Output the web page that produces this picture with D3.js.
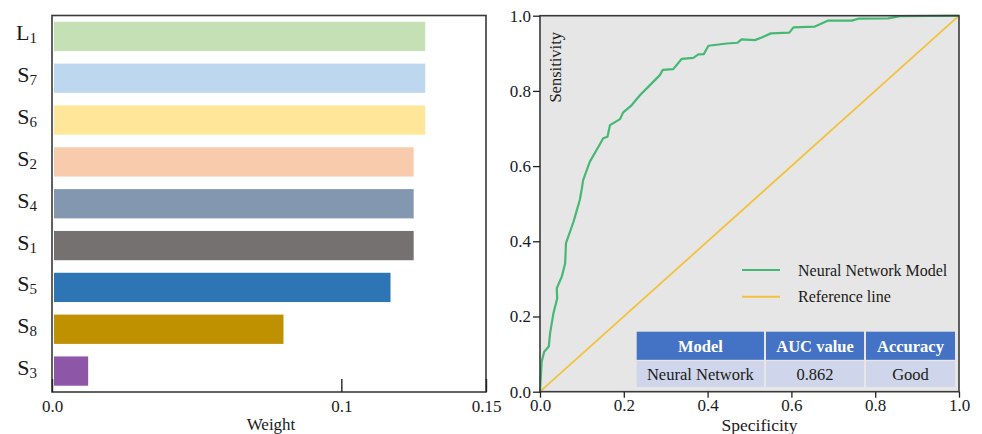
<!DOCTYPE html>
<html>
<head>
<meta charset="utf-8">
<script src="https://cdn.jsdelivr.net/npm/d3@7"></script>
<style>
  html, body { margin: 0; padding: 0; background: #ffffff; }
  svg { display: block; font-family: "Liberation Serif", "Times New Roman", serif; }
</style>
</head>
<body>
<svg id="chart" width="982" height="434"></svg>
<script>
// ---- Feature weights (left panel) ----
const featureBase = ["L", "S", "S", "S", "S", "S", "S", "S", "S"];
const featureSub  = ["1", "7", "6", "2", "4", "1", "5", "8", "3"];
const featureWeights = [0.129, 0.129, 0.129, 0.125, 0.125, 0.125, 0.117, 0.080, 0.0125];
const featureColors = ["#c5e0b4", "#bdd7ee", "#ffe699", "#f8cbad", "#8497b0", "#767171", "#2e75b6", "#bf9000", "#8e56a6"];
const weightTicks = [0, 0.1, 0.15];
const weightTickLabels = ["0.0", "0.1", "0.15"];

// ---- ROC curve (right panel) ----
const rocX = [0, 0.004, 0.010, 0.021, 0.024, 0.032, 0.041, 0.040, 0.052, 0.060, 0.062, 0.080, 0.088, 0.095,
  0.100, 0.103, 0.119, 0.135, 0.151, 0.161, 0.167, 0.191, 0.198, 0.217, 0.239, 0.263, 0.286, 0.293, 0.318,
  0.338, 0.366, 0.378, 0.391, 0.402, 0.446, 0.471, 0.481, 0.513, 0.529, 0.551, 0.595, 0.605, 0.656, 0.688,
  0.744, 0.760, 0.831, 0.859, 1.0];
const rocY = [0, 0.080, 0.106, 0.120, 0.155, 0.208, 0.248, 0.275, 0.306, 0.341, 0.395, 0.452, 0.483, 0.510,
  0.541, 0.563, 0.612, 0.643, 0.674, 0.678, 0.709, 0.725, 0.742, 0.760, 0.789, 0.816, 0.842, 0.856, 0.858,
  0.885, 0.888, 0.897, 0.898, 0.920, 0.926, 0.928, 0.937, 0.935, 0.942, 0.953, 0.955, 0.969, 0.971, 0.987,
  0.987, 0.992, 0.993, 0.999, 1.0];
const refLine = [0, 1];
const rocTicks = [0, 0.2, 0.4, 0.6, 0.8, 1.0];
const legendLabels = ["Neural Network Model", "Reference line"];
const tableHeader = ["Model", "AUC value", "Accuracy"];
const tableRow = ["Neural Network", "0.862", "Good"];

const svg = d3.select("#chart");
const serif = '"Liberation Serif", "Times New Roman", serif';
const ink = "#1a1a1a";

// ================= Left panel: horizontal bars =================
const L = { left: 52, right: 486, top: 15.5, bottom: 392 };
const xW = d3.scaleLinear().domain([0, 0.15]).range([L.left, L.right]);
const yF = d3.scaleBand().domain(d3.range(featureWeights.length))
  .range([L.top, L.bottom]).paddingInner(0.3).paddingOuter(0.15);

const left = svg.append("g");
left.selectAll("rect.bar").data(featureWeights).join("rect")
  .attr("class", "bar")
  .attr("x", xW(0) + 2)
  .attr("y", (d, i) => yF(i))
  .attr("width", d => xW(d) - xW(0) - 2)
  .attr("height", yF.bandwidth())
  .attr("fill", (d, i) => featureColors[i]);

// frame
left.append("rect")
  .attr("x", L.left).attr("y", L.top)
  .attr("width", L.right - L.left).attr("height", L.bottom - L.top)
  .attr("fill", "none").attr("stroke", "#3a3a3a").attr("stroke-width", 1.6);

// bottom axis with inward ticks
const xAxisL = d3.axisBottom(xW).tickValues(weightTicks)
  .tickFormat((d, i) => weightTickLabels[i])
  .tickSizeInner(-13).tickSizeOuter(0).tickPadding(8);
const gxl = left.append("g").attr("transform", `translate(0,${L.bottom})`).call(xAxisL);
gxl.select(".domain").remove();
gxl.selectAll(".tick line").attr("stroke", "#222").attr("stroke-width", 1.4);
gxl.selectAll(".tick text").attr("font-family", serif).attr("font-size", 17).attr("fill", ink);

// category labels with subscripts
const lab = left.selectAll("text.cat").data(featureWeights).join("text")
  .attr("class", "cat")
  .attr("x", 37)
  .attr("y", (d, i) => yF(i) + yF.bandwidth() / 2 + 4)
  .attr("text-anchor", "end")
  .attr("font-family", serif).attr("fill", ink);
lab.append("tspan").attr("font-size", 22).text((d, i) => featureBase[i]);
lab.append("tspan").attr("font-size", 15).attr("dy", 3).text((d, i) => featureSub[i]);

left.append("text")
  .attr("x", (L.left + L.right) / 2 + 2).attr("y", 430)
  .attr("text-anchor", "middle")
  .attr("font-family", serif).attr("font-size", 17).attr("fill", ink)
  .text("Weight");

// ================= Right panel: ROC curve =================
const R = { left: 540, right: 959, top: 15.7, bottom: 391.7 };
const xR = d3.scaleLinear().domain([0, 1]).range([R.left, R.right]);
const yR = d3.scaleLinear().domain([0, 1]).range([R.bottom, R.top]);

const right = svg.append("g");
right.append("rect")
  .attr("x", R.left).attr("y", R.top)
  .attr("width", R.right - R.left).attr("height", R.bottom - R.top)
  .attr("fill", "#e6e6e6");

const line = d3.line().x(d => xR(d[0])).y(d => yR(d[1]));

// diagonal reference
right.append("path")
  .datum(refLine.map(v => [v, v]))
  .attr("d", line).attr("fill", "none")
  .attr("stroke", "#f2c23c").attr("stroke-width", 1.8);

// ROC curve
right.append("path")
  .datum(rocX.map((v, i) => [v, rocY[i]]))
  .attr("d", line).attr("fill", "none")
  .attr("stroke", "#45b874").attr("stroke-width", 2.2)
  .attr("stroke-linejoin", "round");

// frame
right.append("rect")
  .attr("x", R.left).attr("y", R.top)
  .attr("width", R.right - R.left).attr("height", R.bottom - R.top)
  .attr("fill", "none").attr("stroke", "#3a3a3a").attr("stroke-width", 1.6);

const gyr = right.append("g").attr("transform", `translate(${R.left},0)`)
  .call(d3.axisLeft(yR).tickValues(rocTicks).tickFormat(d3.format(".1f"))
    .tickSize(7).tickPadding(2));
gyr.select(".domain").remove();
gyr.selectAll(".tick line").attr("stroke", "#222").attr("stroke-width", 1.3);
gyr.selectAll(".tick text").attr("font-family", serif).attr("font-size", 17).attr("fill", ink);

const gxr = right.append("g").attr("transform", `translate(0,${R.bottom})`)
  .call(d3.axisBottom(xR).tickValues(rocTicks).tickFormat(d3.format(".1f"))
    .tickSize(6).tickPadding(1));
gxr.select(".domain").remove();
gxr.selectAll(".tick line").attr("stroke", "#222").attr("stroke-width", 1.3);
gxr.selectAll(".tick text").attr("font-family", serif).attr("font-size", 17).attr("fill", ink);

right.append("text")
  .attr("x", (R.left + R.right) / 2 + 10).attr("y", 431)
  .attr("text-anchor", "middle")
  .attr("font-family", serif).attr("font-size", 17.5).attr("fill", ink)
  .text("Specificity");

right.append("text")
  .attr("transform", `translate(561,32) rotate(-90)`)
  .attr("text-anchor", "end")
  .attr("font-family", serif).attr("font-size", 16.5).attr("fill", ink)
  .text("Sensitivity");

// legend
const legendColors = ["#45b874", "#f2c23c"];
const legendY = [270, 296.7];
legendLabels.forEach((t, i) => {
  right.append("line")
    .attr("x1", 742).attr("x2", 780)
    .attr("y1", legendY[i]).attr("y2", legendY[i])
    .attr("stroke", legendColors[i]).attr("stroke-width", 2);
  right.append("text")
    .attr("x", 798).attr("y", legendY[i]).attr("dy", "0.35em")
    .attr("font-family", serif).attr("font-size", 16).attr("fill", ink)
    .text(t);
});

// summary table
const colEdges = [636.7, 765, 865, 955];
const rowEdges = [331.7, 359.8, 361.2, 386.9];
const tbl = right.append("g");
[tableHeader, tableRow].forEach((row, r) => {
  const y0 = r === 0 ? rowEdges[0] : rowEdges[2];
  const y1 = r === 0 ? rowEdges[1] : rowEdges[3];
  row.forEach((txt, c) => {
    const x0 = colEdges[c] + (c === 0 ? 0 : 1);
    const x1 = colEdges[c + 1] - (c === row.length - 1 ? 0 : 1);
    tbl.append("rect")
      .attr("x", x0).attr("y", y0)
      .attr("width", x1 - x0).attr("height", y1 - y0)
      .attr("fill", r === 0 ? "#4472c4" : "#cfd5ea");
    tbl.append("text")
      .attr("x", (x0 + x1) / 2).attr("y", (y0 + y1) / 2).attr("dy", "0.35em")
      .attr("text-anchor", "middle")
      .attr("font-family", serif).attr("font-size", 16.5)
      .attr("font-weight", r === 0 ? "bold" : "normal")
      .attr("fill", r === 0 ? "#ffffff" : ink)
      .text(txt);
  });
});
</script>
</body>
</html>
